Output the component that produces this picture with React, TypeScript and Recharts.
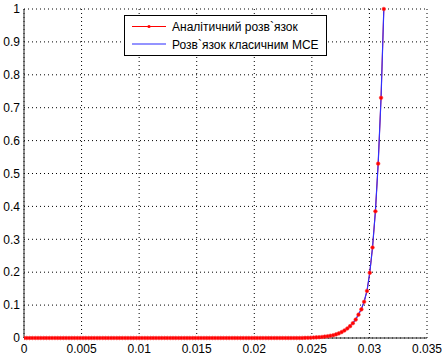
import React from "react";
import { LineChart, Line, XAxis, YAxis, CartesianGrid, Legend } from "recharts";

// x grid (0 .. 0.03125, 128 steps)
const xs = [
  0, 0.00024, 0.00049, 0.00073, 0.00098, 0.00122, 0.00146, 0.00171, 0.00195, 0.0022,
  0.00244, 0.00269, 0.00293, 0.00317, 0.00342, 0.00366, 0.00391, 0.00415, 0.00439, 0.00464,
  0.00488, 0.00513, 0.00537, 0.00562, 0.00586, 0.0061, 0.00635, 0.00659, 0.00684, 0.00708,
  0.00732, 0.00757, 0.00781, 0.00806, 0.0083, 0.00854, 0.00879, 0.00903, 0.00928, 0.00952,
  0.00977, 0.01001, 0.01025, 0.0105, 0.01074, 0.01099, 0.01123, 0.01147, 0.01172, 0.01196,
  0.01221, 0.01245, 0.0127, 0.01294, 0.01318, 0.01343, 0.01367, 0.01392, 0.01416, 0.0144,
  0.01465, 0.01489, 0.01514, 0.01538, 0.01563, 0.01587, 0.01611, 0.01636, 0.0166, 0.01685,
  0.01709, 0.01733, 0.01758, 0.01782, 0.01807, 0.01831, 0.01855, 0.0188, 0.01904, 0.01929,
  0.01953, 0.01978, 0.02002, 0.02026, 0.02051, 0.02075, 0.021, 0.02124, 0.02148, 0.02173,
  0.02197, 0.02222, 0.02246, 0.02271, 0.02295, 0.02319, 0.02344, 0.02368, 0.02393, 0.02417,
  0.02441, 0.02466, 0.0249, 0.02515, 0.02539, 0.02563, 0.02588, 0.02612, 0.02637, 0.02661,
  0.02686, 0.0271, 0.02734, 0.02759, 0.02783, 0.02808, 0.02832, 0.02856, 0.02881, 0.02905,
  0.0293, 0.02954, 0.02979, 0.03003, 0.03027, 0.03052, 0.03076, 0.03101, 0.03125,
];

// analytic solution
const analytic = [
  0, 0, 0, 0, 0, 0, 0, 0, 0, 0,
  0, 0, 0, 0, 0, 0, 0, 0, 0, 0,
  0, 0, 0, 0, 0, 0, 0, 0, 0, 0,
  0, 0, 0, 0, 0, 0, 0, 0, 0, 0,
  0, 0, 0, 0, 0, 0, 0, 0, 0, 0,
  0, 0, 0, 0, 0, 0, 0, 0, 0, 0,
  0, 0, 0, 0, 0, 0, 0, 0, 0, 0,
  0, 0, 0, 0, 0, 0, 0, 0, 0, 0,
  0, 0, 0, 0, 0, 0, 0, 0, 0, 0,
  0, 0, 0, 0, 0, 0, 0, 0, 0.0001, 0.0002,
  0.0004, 0.0006, 0.0009, 0.0013, 0.0018, 0.0024, 0.0032, 0.0042, 0.0054, 0.0068,
  0.0085, 0.011, 0.014, 0.018, 0.023, 0.029, 0.036, 0.045, 0.056, 0.071,
  0.087, 0.11, 0.143, 0.198, 0.275, 0.385, 0.53, 0.73, 1,
];

// classical FEM solution
const fem = [
  0, 0, 0, 0, 0, 0, 0, 0, 0, 0,
  0, 0, 0, 0, 0, 0, 0, 0, 0, 0,
  0, 0, 0, 0, 0, 0, 0, 0, 0, 0,
  0, 0, 0, 0, 0, 0, 0, 0, 0, 0,
  0, 0, 0, 0, 0, 0, 0, 0, 0, 0,
  0, 0, 0, 0, 0, 0, 0, 0, 0, 0,
  0, 0, 0, 0, 0, 0, 0, 0, 0, 0,
  0, 0, 0, 0, 0, 0, 0, 0, 0, 0,
  0, 0, 0, 0, 0, 0, 0, 0, 0, 0,
  0, 0, 0, 0, 0, 0, 0, 0, 0.0001, 0.0002,
  0.0004, 0.0007, 0.001, 0.0014, 0.0019, 0.0026, 0.0034, 0.0044, 0.0057, 0.0072,
  0.009, 0.0115, 0.0145, 0.0185, 0.0235, 0.0295, 0.037, 0.046, 0.057, 0.072,
  0.088, 0.111, 0.144, 0.199, 0.276, 0.386, 0.53, 0.73, 1,
];

const xTicks = [0, 0.005, 0.01, 0.015, 0.02, 0.025, 0.03, 0.035];
const yTicks = [0, 0.1, 0.2, 0.3, 0.4, 0.5, 0.6, 0.7, 0.8, 0.9, 1];

const seriesNames = ["Аналітичний розв`язок", "Розв`язок класичним МСЕ"];

const data = xs.map((x, i) => ({ x, analytic: analytic[i], fem: fem[i] }));

const font = "'Liberation Sans', Arial, sans-serif";

const RedDot = (props: any) => {
  const { cx, cy } = props;
  if (cx == null || cy == null) return null;
  return <circle cx={cx} cy={cy} r={1.8} fill="#ff0000" stroke="#ff3030" strokeWidth={0.6} />;
};

const LegendBox = () => (
  <div
    style={{
      width: 201,
      height: 39,
      border: "1px solid #000",
      background: "#fff",
      fontFamily: font,
      fontSize: 12,
      color: "#000",
      position: "relative",
    }}
  >
    <svg width={201} height={39} style={{ position: "absolute", left: 0, top: 0 }}>
      <line x1={7} y1={10.5} x2={41} y2={10.5} stroke="#ff0000" strokeWidth={1} />
      <circle cx={24} cy={10.5} r={1.6} fill="#ff0000" />
      <line x1={7} y1={28} x2={41} y2={28} stroke="#6f6fff" strokeWidth={1.5} />
      <text x={47} y={15} fontSize={12} fontFamily={font} fill="#000">{seriesNames[0]}</text>
      <text x={47} y={32.5} fontSize={12} fontFamily={font} fill="#000">{seriesNames[1]}</text>
    </svg>
  </div>
);

export default function App() {
  return (
    <div style={{ position: "absolute", left: 0, top: 0, width: 446, height: 361, background: "#fff" }}>
      <LineChart width={446} height={361} data={data} margin={{ top: 9, right: 19, bottom: 0, left: 0 }}>
        <CartesianGrid stroke="#000" strokeDasharray="1 3" strokeWidth={1} horizontalValues={yTicks} verticalValues={xTicks} />
        <XAxis
          dataKey="x"
          type="number"
          domain={[0, 0.035]}
          ticks={xTicks}
          tickFormatter={(v: number) => String(v)}
          height={23}
          tickLine={false}
          tickSize={5}
          tickMargin={1}
          axisLine={{ stroke: "#222" }}
          tick={{ fontSize: 12, fontFamily: font, fill: "#000" }}
          interval={0}
          allowDataOverflow
        />
        <YAxis
          type="number"
          domain={[0, 1]}
          ticks={yTicks}
          tickFormatter={(v: number) => String(v)}
          width={24}
          tickLine={false}
          tickSize={3}
          tickMargin={1}
          axisLine={{ stroke: "#222" }}
          tick={{ fontSize: 12, fontFamily: font, fill: "#000" }}
          interval={0}
        />
        <Line
          type="linear"
          dataKey="analytic"
          name={seriesNames[0]}
          stroke="#ff0000"
          strokeWidth={1}
          dot={<RedDot />}
          activeDot={false}
          isAnimationActive={false}
        />
        <Line
          type="linear"
          dataKey="fem"
          name={seriesNames[1]}
          stroke="#3030ff"
          strokeWidth={1.2}
          dot={false}
          activeDot={false}
          isAnimationActive={false}
        />
        <Legend
          layout="horizontal"
          verticalAlign="middle"
          align="center"
          wrapperStyle={{ left: 124, top: 15, width: 203, height: 41, bottom: "auto" }}
          content={() => <LegendBox />}
        />
      </LineChart>
    </div>
  );
}
